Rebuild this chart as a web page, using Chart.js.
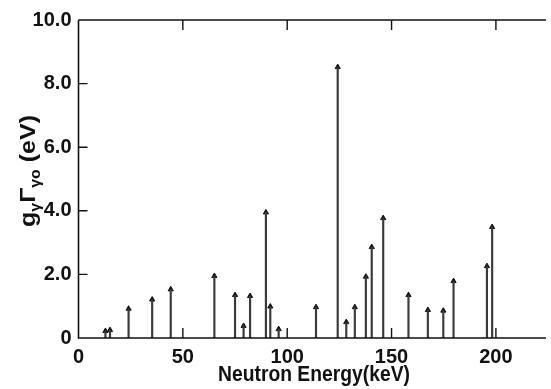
<!DOCTYPE html>
<html>
<head>
<meta charset="utf-8">
<script src="https://cdn.jsdelivr.net/npm/chart.js@4/dist/chart.umd.min.js"></script>
<style>
  html, body { margin: 0; padding: 0; background: #fff; }
  #wrap { width: 551px; height: 389px; position: relative; }
</style>
</head>
<body>
<div id="wrap"><canvas id="chart"></canvas></div>
<script>
// resonance energies (keV) and radiation widths g*Gamma (eV)
const energies = [12.9, 15.1, 24.0, 35.3, 44.2, 65.1, 75.0, 79.1, 82.2, 89.8, 91.9, 95.9,
                  113.8, 124.2, 128.3, 132.4, 137.7, 140.5, 146.0, 158.1, 167.4, 174.8,
                  179.7, 195.7, 198.2];
const widths = [0.22, 0.25, 0.92, 1.21, 1.53, 1.95, 1.35, 0.38, 1.32, 3.95, 0.99, 0.28,
                0.97, 8.52, 0.50, 0.97, 1.93, 2.86, 3.77, 1.35, 0.88, 0.86,
                1.79, 2.26, 3.49];
const xTicks = [0, 50, 100, 150, 200];
const yTicks = [0, 2, 4, 6, 8, 10];

const ink = '#111';
const points = energies.map((e, i) => ({ x: e, y: widths[i] }));

// box top edge plus inward tick marks on all drawn sides
const framePlugin = {
  id: 'frame',
  afterDatasetsDraw(chart) {
    const { ctx, chartArea: a, scales: { x, y } } = chart;
    ctx.save();
    ctx.strokeStyle = ink;
    ctx.lineWidth = 1.6;
    ctx.beginPath();
    ctx.moveTo(a.left, a.top);
    ctx.lineTo(a.right, a.top);
    ctx.moveTo(a.left, a.top);
    ctx.lineTo(a.left, a.bottom);
    ctx.lineTo(a.right, a.bottom);
    ctx.stroke();
    ctx.lineWidth = 1.4;
    ctx.beginPath();
    xTicks.slice(1).forEach(v => {
      const px = x.getPixelForValue(v);
      ctx.moveTo(px, a.bottom);
      ctx.lineTo(px, a.bottom - 10);
      ctx.moveTo(px, a.top);
      ctx.lineTo(px, a.top + 10);
    });
    yTicks.slice(1, -1).forEach(v => {
      const py = y.getPixelForValue(v);
      ctx.moveTo(a.left, py);
      ctx.lineTo(a.left + 9, py);
    });
    ctx.stroke();
    ctx.restore();
  }
};

// axis titles, squeezed to the narrow bold lettering
const titlePlugin = {
  id: 'titles',
  afterDraw(chart) {
    const { ctx } = chart;
    ctx.save();
    ctx.fillStyle = ink;
    ctx.textBaseline = 'alphabetic';

    // x title
    ctx.font = 'bold 22px "Liberation Sans Narrow", "Liberation Sans", sans-serif';
    const xt = 'Neutron Energy(keV)';
    const xw = ctx.measureText(xt).width;
    ctx.save();
    ctx.translate(314, 381);
    ctx.scale(192 / xw, 1);
    ctx.fillText(xt, -xw / 2, 0);
    ctx.restore();

    // y title with subscripts
    const big = 'bold 22px "Liberation Sans", sans-serif';
    const sub = 'bold 14px "Liberation Sans", sans-serif';
    const parts = [
      ['g', big, 0], ['γ', sub, 5], ['Γ', big, 0], ['γ', sub, 5], ['o', sub, 5], [' (eV)', big, 0]
    ];
    let total = 0;
    parts.forEach(p => { ctx.font = p[1]; total += ctx.measureText(p[0]).width; });
    ctx.save();
    ctx.translate(35, 171);
    ctx.rotate(-Math.PI / 2);
    ctx.scale(112 / total, 1);
    let cx = -total / 2;
    parts.forEach(p => {
      ctx.font = p[1];
      ctx.fillText(p[0], cx, p[2]);
      cx += ctx.measureText(p[0]).width;
    });
    ctx.restore();
    ctx.restore();
  }
};

new Chart(document.getElementById('chart'), {
  data: {
    datasets: [
      {
        type: 'bar',
        data: points,
        backgroundColor: '#3a3a3a',
        barThickness: 1.5,
        borderWidth: 0
      },
      {
        type: 'scatter',
        data: points,
        pointStyle: 'triangle',
        pointRadius: 3,
        pointBackgroundColor: ink,
        pointBorderColor: ink,
        pointBorderWidth: 1
      }
    ]
  },
  options: {
    responsive: true,
    maintainAspectRatio: false,
    animation: false,
    layout: { padding: { top: 20, right: 0, left: 0, bottom: 0 } },
    plugins: { legend: { display: false }, tooltip: { enabled: false } },
    scales: {
      x: {
        type: 'linear',
        min: 0,
        max: 224,
        offset: false,
        grid: { display: false, drawTicks: false },
        border: { display: false },
        afterBuildTicks: s => { s.ticks = xTicks.map(v => ({ value: v })); },
        afterFit: s => { s.height = 51; },
        ticks: {
          padding: 7,
          color: ink,
          font: { family: '"Liberation Sans", sans-serif', size: 20, weight: 'bold' },
          maxRotation: 0
        }
      },
      y: {
        min: 0,
        max: 10,
        grid: { display: false, drawTicks: false },
        border: { display: false },
        afterBuildTicks: s => { s.ticks = yTicks.map(v => ({ value: v })); },
        afterFit: s => { s.width = 78.5; },
        ticks: {
          padding: 7,
          color: ink,
          font: { family: '"Liberation Sans", sans-serif', size: 20, weight: 'bold' },
          callback: v => v === 0 ? '0' : v.toFixed(1)
        }
      }
    }
  },
  plugins: [framePlugin, titlePlugin]
});
</script>
</body>
</html>
